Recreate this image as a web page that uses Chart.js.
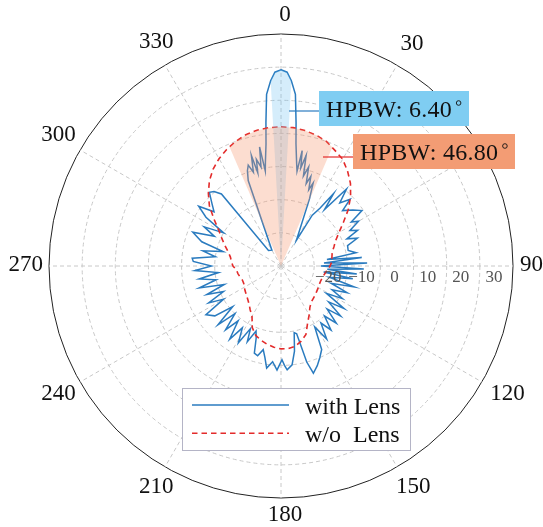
<!DOCTYPE html>
<html>
<head>
<meta charset="utf-8">
<script src="https://cdn.jsdelivr.net/npm/chart.js@4.4.1/dist/chart.umd.min.js"></script>
<style>
  html, body { margin: 0; padding: 0; background: #fff; overflow: hidden; }
  body { width: 543px; height: 527px; position: relative; }
  #chart { position: absolute; left: 6px; top: 3px; }
</style>
</head>
<body>
<canvas id="chart" width="540" height="527"></canvas>
<script>
// angular grid of the radar axis, in degrees
const STEP = 0.2;
const LABEL_EVERY = 30;
const hiddenAngleLabels = [60]; // sits under the HPBW box in the original

// radial axis (dB)
const rMin = -40;
const rMax = 30;
const rTicks = [-20, -10, 0, 10, 20, 30];

// [angle deg, gain dB]
const withLens = [
  [0, 19.2], [1.8, 18.5], [3.2, 16.0], [4.8, 12.0], [6, 3.5], [7, -2.9], [8.6, -8.5],
  [9.6, -11], [10.4, -4.6], [11.4, -9.8], [12.8, -5.8], [14, -12], [15.6, -9], [17, -14],
  [18.4, -11.5], [20, -15.5], [21.2, -13.2], [23, -18],
  [31, -31], [31.6, -22], [34, -19], [36, -13], [37.6, -18.5], [40.4, -9.5], [43, -14],
  [46, -11], [48, -15], [52, -12.5], [55.6, -10.4], [58, -15], [60, -13], [62.8, -16.6],
  [65, -14.5], [67.6, -18.5], [70, -15.5], [73, -19], [77, -19.2], [80, -17],
  [82, -26], [84, -15.5], [86, -27], [88, -14], [90, -28], [92, -15], [94, -26], [96, -17],
  [98, -27], [100, -18], [103, -25], [106, -17], [109, -24], [112, -18.5], [115, -23],
  [118, -19], [121, -24], [124, -17], [127, -22], [130, -16.5], [133, -21], [136, -16],
  [139, -20], [142, -15.5], [145, -19], [148, -14], [151, -19], [154, -12], [157, -10],
  [160, -8], [163.2, -6.2], [165, -10], [167, -19], [168.8, -19.5], [171, -14], [173.6, -10],
  [176.6, -8.6], [178, -10], [179.4, -11.7], [181, -10], [182.2, -8.6], [185, -11], [188, -8.9],
  [190, -12], [192, -14.2], [194.6, -12], [197, -12.5], [199, -17], [201, -19], [204, -15],
  [206, -19], [209, -13.5], [212, -18], [215, -13], [218, -19], [221, -14.5], [224, -20],
  [227, -14], [230, -21], [233, -15], [237, -13], [240, -20], [243, -15.5], [246, -21],
  [249, -16], [252, -22], [255, -14.5], [258, -20], [261, -15], [264, -21], [267, -14],
  [270, -19], [273, -13.5], [275, -13.1], [278, -20], [281, -16], [284, -22], [287, -15],
  [291, -11.5], [294, -18], [297, -14], [300, -20], [303, -13], [306, -9.3], [309, -14],
  [312, -12], [315.8, -9], [318, -9.8], [320.4, -11.8], [321, -34], [330, -34.5],
  [339, -12.4], [340.6, -9.5], [342, -8], [343.6, -10.5], [345, -5.5], [346, -11], [347, -7],
  [348.6, -9.5], [349.8, -3.5], [350.6, -11], [351.4, -8.5], [353, -2.9], [354, 3.5],
  [355.2, 12], [356.8, 16], [358.2, 18.5]
];

const withoutLens = [
  [0, 2.0], [5, 1.9], [10, 1.5], [15, 0.9], [20, 0], [25, -1.5], [30, -2.8], [35, -5.0],
  [40, -7.4], [45, -10.3], [50, -13.5], [55, -17], [60, -19.8], [65, -21.8], [70, -23],
  [75, -24], [80, -24.4], [85, -24.6], [90, -25.2], [95, -26], [100, -26.6], [105, -27],
  [110, -27.2], [115, -27.2], [120, -27], [125, -26.8], [130, -26.5], [135, -26.2],
  [140, -25.8], [145, -24.8], [150, -23], [155, -21], [160, -18], [165, -16.5], [170, -15.4],
  [175, -15], [180, -15], [185, -15.4], [190, -16], [195, -16.8], [200, -17.7], [205, -19.5],
  [210, -22.5], [215, -23.8], [220, -25], [225, -25.8], [230, -26.4], [235, -26.8],
  [240, -27.2], [245, -27.6], [250, -27.6], [255, -27.2], [260, -26.8], [265, -26.5],
  [270, -25.5], [275, -25], [280, -24.5], [285, -23.5], [290, -22], [295, -20.3],
  [300, -18.3], [305, -15.3], [310, -11.8], [315, -9], [320, -6.4], [325, -4.3],
  [330, -2.6], [335, -1.2], [340, 0], [345, 1], [350, 1.6], [355, 1.9]
];

// half power beam sectors (edges go down to the axis minimum)
const beamWithLens = [[-3.4, -40], [-3.2, 16.0], [-1.8, 18.5], [0, 19.2], [1.8, 18.5], [3.2, 16.0], [3.4, -40]];
const beamWithoutLens = [
  [-23.6, -40], [-23.4, -1.0], [-20, 0], [-15, 0.9], [-10, 1.5], [-5, 1.9], [0, 2.0],
  [5, 1.9], [10, 1.5], [15, 0.9], [20, 0], [23.4, -1.0], [23.6, -40]
];

const hpbwWith = '6.40';
const hpbwWithout = '46.80';

const N = Math.round(360 / STEP);
const angleLabels = Array.from({ length: N }, (_, i) => Math.round(i * STEP * 10) / 10);

function toIndexed(pairs) {
  const out = new Array(N).fill(null);
  pairs.forEach(([a, v]) => {
    const i = ((Math.round(a / STEP) % N) + N) % N;
    out[i] = v;
  });
  return out;
}

const SERIF = '"Liberation Serif", "Times New Roman", serif';
const BLUE = '#2a7bbf';
const RED = '#e32b2b';
const every = Math.round(LABEL_EVERY / STEP);
const showAngleLabel = (label, i) => i % every === 0 && !hiddenAngleLabels.includes(label);

const overlay = {
  id: 'overlay',
  afterDraw(chart) {
    const r = chart.scales.r;
    const ctx = chart.ctx;
    const cx = r.xCenter, cy = r.yCenter;
    ctx.save();

    // angle labels, centred on their ray (pgfplots style)
    ctx.font = '23px ' + SERIF;
    ctx.fillStyle = '#111';
    ctx.textAlign = 'center';
    ctx.textBaseline = 'middle';
    angleLabels.forEach((label, i) => {
      if (!showAngleLabel(label, i)) return;
      const text = String(label);
      const th = label * Math.PI / 180;
      const s = Math.abs(Math.sin(th));
      const w = ctx.measureText(text).width;
      const d = r.drawingArea + 6.5 + (w / 2) * s + 11.5 * Math.abs(Math.cos(th));
      const p = r.getPointPosition(i, d);
      ctx.fillText(text, p.x + 4 - 3.5 * s * s * s * s, p.y - 1.5);
    });

    // radial tick labels along the 90 degree side
    ctx.font = '17px ' + SERIF;
    ctx.fillStyle = '#555';
    rTicks.forEach(v => {
      const d = r.getDistanceFromCenterForValue(v);
      ctx.fillText(String(v).replace('-', '\u2212'), cx + d - 19, cy + 12);
    });

    // HPBW callouts
    function callout(x0, lineY, bx, by, bw, bh, fillColor, lineColor, text) {
      ctx.strokeStyle = lineColor;
      ctx.lineWidth = 1.2;
      ctx.beginPath();
      ctx.moveTo(x0, lineY);
      ctx.lineTo(bx, lineY);
      ctx.stroke();
      ctx.fillStyle = fillColor;
      ctx.fillRect(bx, by, bw, bh);
      ctx.font = '24px ' + SERIF;
      ctx.letterSpacing = '0.3px';
      ctx.fillStyle = '#111';
      ctx.textAlign = 'left';
      ctx.textBaseline = 'alphabetic';
      const tx = bx + 7;
      const ty = by + 26;
      ctx.fillText(text, tx, ty);
      const w = ctx.measureText(text).width;
      ctx.letterSpacing = '0px';
      ctx.strokeStyle = '#111';
      ctx.lineWidth = 0.9;
      ctx.beginPath();
      ctx.arc(tx + w + 6.5, ty - 14, 2.3, 0, Math.PI * 2);
      ctx.stroke();
    }
    callout(cx + 8, cy - 155, cx + 38, cy - 175, 150, 35, '#7fcdf2', BLUE, 'HPBW: ' + hpbwWith);
    callout(cx + 42, cy - 109, cx + 72, cy - 132, 162, 35, '#f39c74', RED, 'HPBW: ' + hpbwWithout);

    // legend
    const lx = cx - 99, ly = cy + 122, lw = 228, lh = 62;
    ctx.fillStyle = '#fff';
    ctx.fillRect(lx, ly, lw, lh);
    ctx.strokeStyle = '#b4b4c6';
    ctx.lineWidth = 1;
    ctx.strokeRect(lx + 0.5, ly + 0.5, lw, lh);
    chart.data.datasets.filter(ds => ds.legendText).forEach((ds, k) => {
      const y = ly + 17 + k * 28.3;
      ctx.strokeStyle = ds.borderColor;
      ctx.lineWidth = ds.borderWidth;
      ctx.setLineDash(ds.borderDash || []);
      ctx.beginPath();
      ctx.moveTo(lx + 10, y);
      ctx.lineTo(lx + 107, y);
      ctx.stroke();
      ctx.setLineDash([]);
      ctx.font = '24px ' + SERIF;
      ctx.fillStyle = '#111';
      ctx.textAlign = 'left';
      ctx.textBaseline = 'alphabetic';
      ctx.fillText(ds.legendText, lx + 123, y + 8.5);
    });
    ctx.restore();
  }
};

new Chart(document.getElementById('chart'), {
  type: 'radar',
  data: {
    labels: angleLabels,
    datasets: [
      {
        label: 'with Lens', legendText: 'with Lens',
        data: toIndexed(withLens),
        borderColor: BLUE, borderWidth: 1.5, fill: false, spanGaps: true, order: 3
      },
      {
        label: 'w/o Lens', legendText: 'w/o  Lens',
        data: toIndexed(withoutLens),
        borderColor: RED, borderWidth: 1.6, borderDash: [5.5, 4], fill: false, spanGaps: true, order: 2
      },
      {
        label: 'HPBW with',
        data: toIndexed(beamWithLens),
        borderWidth: 0, backgroundColor: 'rgba(100,190,240,0.27)', fill: 'start', spanGaps: true, order: 1
      },
      {
        label: 'HPBW w/o',
        data: toIndexed(beamWithoutLens),
        borderWidth: 0, backgroundColor: 'rgba(245,150,110,0.32)', fill: 'start', spanGaps: true, order: 0
      }
    ]
  },
  options: {
    responsive: false,
    animation: false,
    events: [],
    elements: { point: { radius: 0 }, line: { tension: 0 } },
    plugins: { legend: { display: false }, tooltip: { enabled: false } },
    scales: {
      r: {
        min: rMin,
        max: rMax,
        ticks: { stepSize: 10, display: false },
        grid: {
          circular: true,
          lineWidth: 1,
          color: c => (c.tick && c.tick.value === rMax ? '#222' : '#c8c8c8')
        },
        border: { dash: c => (c.tick && c.tick.value === rMax ? [] : [4, 3]) },
        angleLines: {
          color: '#c8c8c8',
          lineWidth: c => (c.index % every === 0 ? 1 : 0),
          borderDash: [4, 3]
        },
        pointLabels: {
          // kept for the layout fit only; the text is drawn by the overlay plugin
          padding: 3.4,
          color: 'rgba(0,0,0,0)',
          font: { family: SERIF, size: 23 },
          callback: (label, i) => (showAngleLabel(label, i) ? String(label) : '')
        }
      }
    }
  },
  plugins: [overlay]
});
</script>
</body>
</html>
